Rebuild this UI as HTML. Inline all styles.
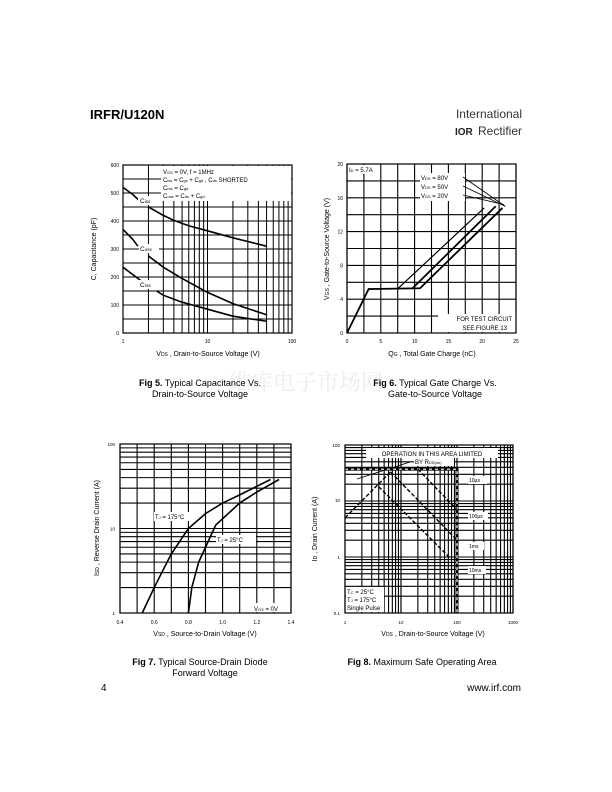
<!DOCTYPE html>
<html><head><meta charset="utf-8"><style>
body{margin:0;background:#fff;}
svg{display:block;font-family:"Liberation Sans",Arial,sans-serif;}
</style></head><body>
<svg id="s" width="612" height="792" viewBox="0 0 612 792" xmlns="http://www.w3.org/2000/svg">
<text x="90" y="119" font-size="13" font-weight="bold">IRFR/U120N</text>
<text x="522" y="118" font-size="12" text-anchor="end" font-weight="300" fill="#333">International</text>
<text x="455" y="135" font-size="10" font-weight="bold" fill="#222">IOR</text>
<text x="522" y="135" font-size="12" text-anchor="end" fill="#333">Rectifier</text>
<text x="306" y="390" font-size="22" text-anchor="middle" fill="#ececec" font-family="Noto Serif CJK SC,serif">维库电子市场网</text>
<text x="200" y="386" font-size="9" text-anchor="middle"><tspan font-weight="bold">Fig 5.</tspan> Typical Capacitance Vs.</text>
<text x="200" y="397" font-size="9" text-anchor="middle">Drain-to-Source Voltage</text>
<text x="435" y="386" font-size="9" text-anchor="middle"><tspan font-weight="bold">Fig 6.</tspan> Typical Gate Charge Vs.</text>
<text x="435" y="397" font-size="9" text-anchor="middle">Gate-to-Source Voltage</text>
<text x="200" y="665" font-size="9" text-anchor="middle"><tspan font-weight="bold">Fig 7.</tspan> Typical Source-Drain Diode</text>
<text x="205" y="676" font-size="9" text-anchor="middle">Forward Voltage</text>
<text x="422" y="665" font-size="9" text-anchor="middle"><tspan font-weight="bold">Fig 8.</tspan> Maximum Safe Operating Area</text>
<text x="101" y="691" font-size="10">4</text>
<text x="521" y="691" font-size="10" text-anchor="end">www.irf.com</text>
<g id="g"></g>
</svg>
<script>
var g=document.getElementById('g'),h='';
function L(x1,y1,x2,y2,w,c,d){h+='<line x1="'+x1+'" y1="'+y1+'" x2="'+x2+'" y2="'+y2+'" stroke="'+(c||'#000')+'" stroke-width="'+(w||1)+'"'+(d?' stroke-dasharray="'+d+'"':'')+'/>';}
function T(x,y,t,s,a,r){h+='<text x="'+x+'" y="'+y+'" font-size="'+(s||5)+'"'+(a?' text-anchor="'+a+'"':'')+(r?' transform="rotate(-90 '+x+' '+y+')"':'')+'>'+t+'</text>';}
function R(x,y,w,hh,f){h+='<rect x="'+x+'" y="'+y+'" width="'+w+'" height="'+hh+'" fill="'+(f||'none')+'"'+(f?'':' stroke="#000" stroke-width="1.2"')+'/>';}
function P(pts,w,d){h+='<polyline fill="none" stroke="#000" stroke-width="'+(w||1.6)+'"'+(d?' stroke-dasharray="'+d+'"':'')+' points="'+pts.map(function(p){return p.join(',');}).join(' ')+'"/>';}
function lg(v){return Math.log10(v);}
// Chart1
(function(){var x0=123,x1=292,y0=165,y1=333;
var X=function(v){return x0+(x1-x0)*lg(v)/2;},Y=function(v){return y1-(y1-y0)*v/600;};
for(var d=1;d<=10;d*=10)for(var k=1;k<=10;k++)L(X(d*k),y0,X(d*k),y1,1);
for(var v=0;v<=600;v+=50)L(x0,Y(v),x1,Y(v),1);
R(161,166,130,35,'#fff');
T(163,174,'V<tspan font-size="4">GS</tspan> = 0V,        f = 1MHz',6);
T(163,182,'C<tspan font-size="4">iss</tspan>  = C<tspan font-size="4">gs</tspan> + C<tspan font-size="4">gd</tspan> ,   C<tspan font-size="4">ds</tspan>  SHORTED',6);
T(163,190,'C<tspan font-size="4">rss</tspan>  = C<tspan font-size="4">gd</tspan>',6);
T(163,198,'C<tspan font-size="4">oss</tspan>  = C<tspan font-size="4">ds</tspan>  + C<tspan font-size="4">gd</tspan>',6);
R(x0,y0,x1-x0,y1-y0);
function C(a){P(a.map(function(p){return [X(p[0]),Y(p[1])];}));}
C([[1,520],[1.3,495],[1.6,470]]);C([[2,450],[3,420],[4,402],[6,383],[10,365],[20,340],[50,310]]);
C([[1,370],[1.3,335],[1.5,310]]);C([[2,275],[3,235],[5,195],[10,145],[20,105],[50,65]]);
C([[1,235],[1.5,195],[1.9,170]]);C([[2.5,150],[3,135],[5,110],[10,85],[20,60],[50,42]]);
h+='<rect x="138" y="196" width="22" height="9" fill="#fff"/><rect x="139" y="244" width="20" height="9" fill="#fff"/><rect x="139" y="280" width="20" height="9" fill="#fff"/>';
T(140,203,'C<tspan font-size="4.5">iss</tspan>',6.5);T(140,251,'C<tspan font-size="4.5">oss</tspan>',6.5);T(140,287,'C<tspan font-size="4.5">rss</tspan>',6.5);
[0,100,200,300,400,500,600].forEach(function(v){T(119,Y(v)+2,v,5,'end');});
T(x0,343,'1',5,'middle');T(X(10),343,'10',5,'middle');T(x1,343,'100',5,'middle');
T(208,356,'V<tspan font-size="5">DS</tspan> , Drain-to-Source Voltage (V)',7,'middle');
T(96,249,'C, Capacitance (pF)',7,'middle',1);
})();
// Chart2
(function(){var x0=347,x1=516,y0=164,y1=333;
var X=function(v){return x0+(x1-x0)*v/25;},Y=function(v){return y1-(y1-y0)*v/20;};
for(var v=0;v<=25;v+=2.5)L(X(v),y0,X(v),y1,1.1);
for(var v=0;v<=20;v+=2)L(x0,Y(v),x1,Y(v),1.1);
R(348,165,27,9,'#fff');T(349,172,'I<tspan font-size="4">D</tspan>  = 5.7A',6);
R(420,173,45,28,'#fff');
T(421,180,'V<tspan font-size="4">DS</tspan>  = 80V',6);T(421,189,'V<tspan font-size="4">DS</tspan>  = 50V',6);T(421,198,'V<tspan font-size="4">DS</tspan>  = 20V',6);
R(438,314,78,18,'#fff');T(512,321,'FOR TEST CIRCUIT',6,'end');T(507,330,'SEE FIGURE 13',6,'end');
R(x0,y0,x1-x0,y1-y0);
P([[X(0),Y(0)],[X(3.2),Y(5.2)],[X(10.8),Y(5.3)],[X(23),Y(14.8)]],1.8);
P([[X(9.7),Y(5.3)],[X(22),Y(15)]],1.8);
P([[X(7.6),Y(5.3)],[X(20.3),Y(14.8)]],1.2);
L(463,177,X(23.4),Y(15),0.8);L(463,186,X(23.4),Y(15),0.8);L(463,195,X(23.2),Y(15.2),0.8);
[0,4,8,12,16,20].forEach(function(v){T(343,Y(v)+2,v,5,'end');});
[0,5,10,15,20,25].forEach(function(v){T(X(v),343,v,5,'middle');});
T(432,356,'Q<tspan font-size="5">G</tspan> , Total Gate Charge (nC)',7,'middle');
T(329,249,'V<tspan font-size="5">GS</tspan> , Gate-to-Source Voltage (V)',7,'middle',1);
})();
// Chart3
(function(){var x0=120,x1=291,y0=444,y1=613;
var X=function(v){return x0+(x1-x0)*(v-0.4);},Y=function(v){return y1-(y1-y0)*lg(v)/2;};
for(var i=0;i<=10;i++)L(X(0.4+i*0.1),y0,X(0.4+i*0.1),y1,1.1);
for(var d=1;d<=10;d*=10)for(var k=1;k<=10;k++)L(x0,Y(d*k),x1,Y(d*k),1.1);
R(x0,y0,x1-x0,y1-y0);
function C(a){P(a.map(function(p){return [X(p[0]),Y(p[1])];}));}
C([[0.53,1],[0.6,2],[0.7,5],[0.8,10],[0.9,15],[1.0,20],[1.1,25],[1.28,38]]);
C([[0.8,1],[0.82,2],[0.86,4],[0.9,6],[0.96,11],[1.1,20],[1.2,27],[1.33,38]]);
R(154,512,40,9,'#fff');T(155,519,'T<tspan font-size="4">J</tspan> = 175°C',6);
R(216,535,40,9,'#fff');T(217,542,'T<tspan font-size="4">J</tspan> = 25°C',6);
R(252,603,38,9,'#fff');T(254,611,'V<tspan font-size="4">GS</tspan>  = 0V',6);
T(115,Y(1)+2,'1',4.5,'end');T(115,Y(10)+2,'10',4.5,'end');T(115,Y(100)+2,'100',4.5,'end');
[0.4,0.6,0.8,1.0,1.2,1.4].forEach(function(v){T(X(v),624,v.toFixed(1),5,'middle');});
T(205,636,'V<tspan font-size="5">SD</tspan> , Source-to-Drain Voltage (V)',7,'middle');
T(99,528,'I<tspan font-size="5">SD</tspan> , Reverse Drain Current (A)',7,'middle',1);
})();
// Chart4
(function(){var x0=345,x1=513,y0=445,y1=613;
var X=function(v){return x0+(x1-x0)*lg(v)/3;},Y=function(v){return y1-(y1-y0)*(lg(v)+1)/3;};
for(var d=1;d<=100;d*=10)for(var k=1;k<=10;k++)L(X(d*k),y0,X(d*k),y1,1.1);
for(var d=0.1;d<=10;d*=10)for(var k=1;k<=10;k++)L(x0,Y(d*k),x1,Y(d*k),1.1);
R(366,448,132,10,'#fff');T(432,456,'OPERATION IN THIS AREA LIMITED',6,'middle');
R(414,458,40,8,'#fff');T(415,464,'BY R<tspan font-size="4">DS(on)</tspan>',6);
L(357,479,410,462,0.8);
P([[x0,Y(37)],[X(100),Y(37)],[X(100),y1]],3);
P([[x0,Y(37)],[X(100),Y(37)],[X(100),y1]],1.5,'3,2');
h=h.replace('stroke="#000" stroke-width="1.5" stroke-dasharray="3,2"','stroke="#fff" stroke-width="1.2" stroke-dasharray="3,3"');
P([[X(1),Y(5)],[X(6.5),Y(33)]],1.4,'4,2');
P([[X(20),Y(37)],[X(100),Y(7)]],1.4,'4,2');
P([[X(6.5),Y(33)],[X(100),Y(2)]],1.4,'4,2');
P([[X(4),Y(18)],[X(80),Y(0.9)]],1.4,'4,2');
R(468,476,19,8,'#fff');T(469,482,'10µs',5);
R(468,512,20,8,'#fff');T(469,518,'100µs',5);
R(468,542,16,8,'#fff');T(469,548,'1ms',5);
R(468,566,18,8,'#fff');T(469,572,'10ms',5);
R(346,587,38,25,'#fff');T(347,594,'T<tspan font-size="4">C</tspan>   = 25°C',6);T(347,602,'T<tspan font-size="4">J</tspan>   = 175°C',6);T(347,610,'Single Pulse',6);
R(x0,y0,x1-x0,y1-y0);
T(340,447,'100',4.5,'end');T(340,502,'10',4.5,'end');T(340,559,'1',4.5,'end');T(340,615,'0.1',4.5,'end');
T(x0,624,'1',4.5,'middle');T(X(10),624,'10',4.5,'middle');T(X(100),624,'100',4.5,'middle');T(x1,624,'1000',4.5,'middle');
T(433,636,'V<tspan font-size="5">DS</tspan> , Drain-to-Source Voltage (V)',7,'middle');
T(317,529,'I<tspan font-size="5">D</tspan> , Drain Current (A)',7,'middle',1);
})();
g.innerHTML=h;
</script>
</body></html>
